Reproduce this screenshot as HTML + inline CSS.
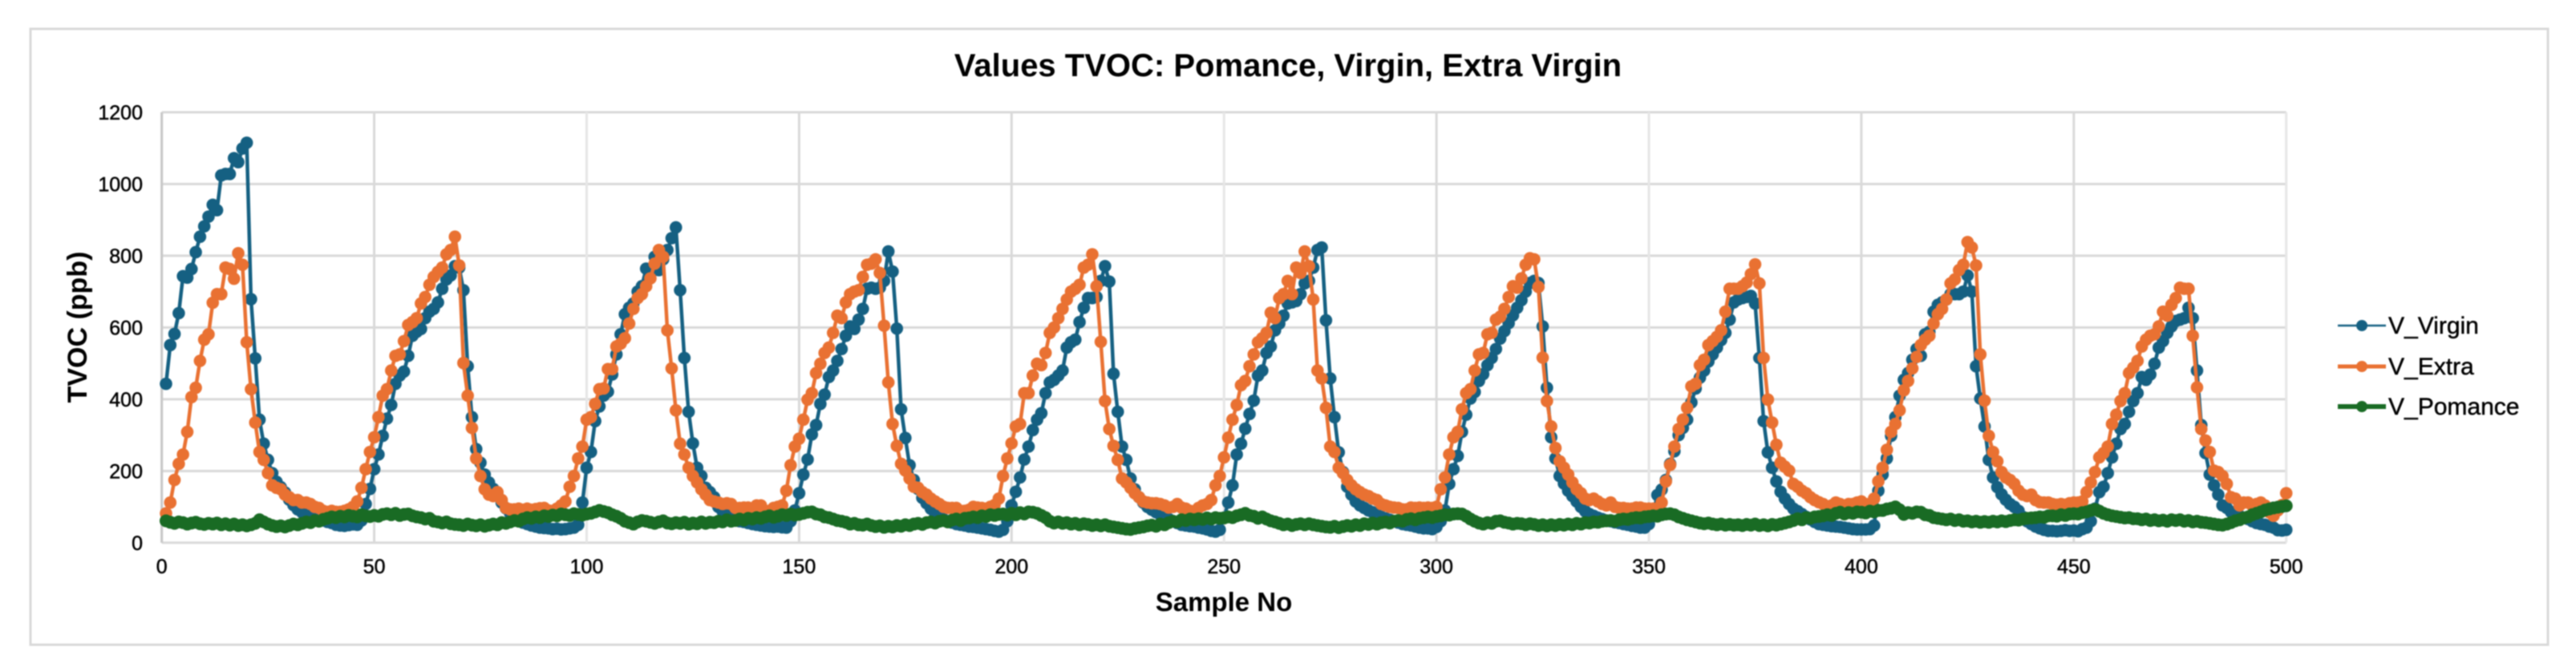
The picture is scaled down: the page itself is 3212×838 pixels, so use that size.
<!DOCTYPE html>
<html lang="en">
<head>
<meta charset="utf-8">
<title>Values TVOC: Pomance, Virgin, Extra Virgin</title>
<style>
html,body{margin:0;padding:0;background:#fff;}
svg{display:block;filter:blur(0.8px);}
text{font-family:"Liberation Sans",sans-serif;fill:#000;}
.tick{font-size:25px;stroke:#000;stroke-width:.5px;}
.legend-label{font-size:30px;stroke:#000;stroke-width:.45px;}
</style>
</head>
<body>
<svg id="chart" xmlns="http://www.w3.org/2000/svg" width="3212" height="838" viewBox="0 0 3212 838">
<rect x="38" y="36" width="3139" height="768" fill="#fff" stroke="#d9d9d9" stroke-width="3"/>
<text x="1606" y="95" text-anchor="middle" font-size="40" font-weight="700">Values TVOC: Pomance, Virgin, Extra Virgin</text>
<text x="1526" y="762" text-anchor="middle" font-size="33" font-weight="700">Sample No</text>
<text transform="translate(108,408) rotate(-90)" text-anchor="middle" font-size="34" font-weight="700">TVOC (ppb)</text>
<g id="grid"></g>
<g id="axes"></g>
<g id="series"></g>
<g id="legend"></g>
</svg>
<script>
const yTicks = [0,200,400,600,800,1000,1200];
const xTicks = [0,50,100,150,200,250,300,350,400,450,500];
const fainterXTicks = [100,250,350,500];
const virgin = [
443,551,582,640,743,739,763,810,853,882,
909,942,927,1024,1028,1028,1072,1061,1099,1115,
679,514,343,276,231,194,170,155,140,120,
105,93,85,80,75,70,66,62,58,55,
50,48,47,49,51,50,62,108,150,205,
246,298,346,384,443,466,477,521,577,588,
596,626,644,652,670,708,734,745,771,767,
704,492,350,261,223,190,168,150,132,112,
96,82,72,62,56,52,48,45,42,41,
40,38,39,37,38,40,42,50,112,209,
253,339,380,410,421,469,525,581,637,655,
667,700,715,764,752,797,760,790,816,849,
879,704,515,365,277,209,186,153,141,127,
100,88,80,72,65,60,58,55,52,50,
48,46,45,44,45,43,42,60,90,138,
190,232,302,328,387,413,462,480,507,540,
577,603,596,622,652,708,711,708,711,730,
812,756,597,372,292,216,175,150,125,110,
95,82,72,65,60,56,52,50,48,45,
44,42,40,38,36,33,31,36,60,104,
142,182,232,268,314,343,361,417,447,454,
466,480,544,559,566,615,655,682,682,685,
730,771,728,471,365,268,231,179,149,127,
112,100,92,85,78,72,66,60,55,50,
48,46,45,42,40,37,33,31,36,70,
112,160,246,276,318,359,396,466,480,529,
547,592,611,633,667,670,674,693,723,730,
767,816,823,620,458,350,252,197,156,134,
115,104,97,90,85,78,72,68,64,60,
56,52,50,48,45,42,40,40,38,44,
60,90,164,205,242,309,357,402,420,451,
470,495,515,540,569,590,612,634,655,676,
700,724,730,724,603,432,294,235,186,165,
145,130,115,100,88,80,75,70,66,62,
60,57,55,52,50,47,45,42,42,52,
80,133,148,175,220,255,300,320,343,391,
430,460,480,505,525,544,565,585,622,670,
678,682,685,688,667,515,339,252,209,171,
142,123,108,95,88,80,72,65,58,52,
50,48,46,45,44,42,40,38,37,37,
37,38,48,145,190,235,298,350,410,454,
473,510,540,521,581,588,644,663,670,678,
693,693,693,700,745,700,492,402,324,231,
182,155,135,120,108,100,89,72,60,52,
45,40,36,33,33,32,33,35,33,34,
32,38,42,60,95,141,156,194,238,276,
317,331,365,395,417,462,454,469,499,544,
562,585,603,618,622,626,655,626,480,328,
250,190,160,134,104,97,86,82,75,70,
66,60,55,52,50,45,42,35,34,36
];
const extra = [
82,112,175,220,246,309,406,432,507,566,
581,669,693,693,767,763,736,807,775,559,
428,335,253,231,194,160,153,149,134,127,
119,119,112,112,108,100,97,89,86,89,
86,86,89,93,100,115,153,205,253,294,
350,410,428,480,521,525,562,607,615,626,
667,685,719,741,755,767,804,816,853,773,
501,410,320,235,186,149,134,130,141,119,
97,93,93,95,92,95,92,94,96,97,
90,89,95,104,115,156,186,235,268,343,
350,387,428,430,484,484,547,555,570,611,
652,682,693,715,737,778,816,797,592,486,
369,276,246,209,186,168,149,134,119,115,
112,108,110,108,97,97,98,98,93,104,
104,89,89,97,100,104,145,216,268,290,
343,399,417,473,499,529,544,585,633,626,
670,693,700,704,741,775,778,790,752,605,
447,331,270,220,201,179,156,153,141,134,
123,115,108,100,97,97,97,89,89,92,
100,98,97,95,100,105,123,186,235,277,
324,331,417,417,466,499,495,529,585,600,
626,652,678,700,708,719,767,775,804,715,
560,395,317,270,231,179,168,153,138,127,
115,112,110,110,108,104,98,100,108,98,
95,89,88,97,104,108,119,160,186,238,
293,343,384,439,451,492,525,559,570,585,
641,626,682,693,730,693,767,752,812,771,
678,480,458,376,268,253,209,194,175,160,
149,141,134,130,123,119,108,104,100,98,
97,93,93,98,97,98,97,98,97,100,
149,182,246,294,309,372,417,428,480,525,
529,581,585,622,630,652,685,715,711,737,
775,793,790,713,516,395,324,264,227,209,
190,168,149,138,123,119,123,115,108,104,
112,100,97,97,95,95,98,98,95,95,
95,95,112,171,217,268,317,343,376,436,
443,495,510,551,562,574,592,644,708,708,
708,715,725,749,776,723,515,399,335,273,
223,212,201,164,156,145,138,127,119,113,
108,100,104,112,108,104,108,108,112,115,
108,108,123,171,209,259,309,331,369,425,
451,486,518,551,566,577,611,637,652,678,
723,734,760,775,838,823,773,525,396,298,
253,227,197,182,175,164,145,134,130,134,
119,113,112,112,108,106,108,106,110,112,
112,115,141,168,197,238,250,268,331,357,
395,417,473,488,507,547,566,577,581,603,
644,633,663,682,711,708,708,577,433,317,
285,253,201,197,186,164,127,123,104,112,
112,104,108,112,104,85,75,90,105,138
];
const pomance = [
61,57,54,58,56,52,55,57,53,51,
54,52,55,50,53,49,52,48,50,47,
50,54,64,58,52,48,45,47,44,48,
52,50,54,58,56,62,60,65,68,72,
70,74,72,76,74,72,78,75,73,76,
74,79,81,78,82,76,79,80,75,72,
70,66,68,60,58,55,58,53,51,50,
48,52,49,47,50,46,49,52,50,56,
54,58,62,60,66,70,68,72,70,75,
73,77,75,80,78,76,81,79,77,80,
82,86,90,87,84,78,74,68,60,56,
52,58,62,60,57,54,58,61,55,53,
56,54,57,52,55,53,58,54,57,56,
60,58,64,60,62,66,63,68,66,70,
68,72,75,71,74,78,76,80,77,79,
82,85,86,80,78,72,70,66,62,60,
57,52,54,50,49,52,48,45,47,43,
46,44,48,46,50,48,52,54,51,56,
58,55,60,62,58,63,66,62,68,69,
72,70,75,73,78,76,79,80,77,82,
78,84,80,86,85,82,76,70,60,55,
58,54,56,52,54,50,53,51,48,50,
47,50,46,44,42,40,38,37,40,42,
44,47,49,46,52,50,56,60,58,64,
62,66,64,67,65,69,66,70,68,69,
72,70,75,78,82,76,74,68,72,66,
61,58,54,50,52,48,51,53,50,53,
50,48,46,44,43,46,42,45,48,46,
50,48,53,51,55,52,56,58,55,60,
62,60,65,67,64,68,70,72,70,73,
75,78,77,80,81,80,74,66,60,55,
52,56,54,60,61,57,55,52,54,53,
50,53,51,48,50,47,50,48,51,49,
52,50,54,52,56,55,58,57,60,61,
62,60,64,66,65,68,70,69,72,73,
75,74,78,80,81,78,72,68,64,61,
58,55,53,55,52,50,52,49,51,49,
50,48,51,49,52,48,50,47,51,49,
52,55,58,62,67,64,70,68,72,73,
75,78,76,82,85,80,84,82,86,85,
83,88,86,90,90,94,96,100,92,79,
84,82,86,85,78,76,70,68,66,64,
66,62,64,60,61,58,60,57,59,57,
60,58,61,59,62,64,63,66,68,69,
70,72,71,75,75,74,78,76,80,81,
80,84,86,90,93,88,82,78,75,73,
71,69,70,67,67,64,66,62,64,61,
63,60,64,62,64,60,62,58,60,57,
56,54,52,50,49,52,56,61,64,69,
72,78,82,86,91,94,97,99,101,103
];
const seriesNames = ["V_Virgin","V_Extra","V_Pomance"];

const SVGNS = "http://www.w3.org/2000/svg";
const PLOT = {left:201.7,right:2850.7,top:140,bottom:676.8};
const X_MAX = 500, Y_MAX = 1200;
function xScale(v){return PLOT.left+(v/X_MAX)*(PLOT.right-PLOT.left);}
function yScale(v){return PLOT.bottom-(v/Y_MAX)*(PLOT.bottom-PLOT.top);}
function mk(tag,attrs,parent){
  const el=document.createElementNS(SVGNS,tag);
  for(const k in attrs){el.setAttribute(k,attrs[k]);}
  parent.appendChild(el);
  return el;
}
const grid=document.getElementById("grid");
const axes=document.getElementById("axes");
const seriesG=document.getElementById("series");
const legendG=document.getElementById("legend");

yTicks.forEach(function(t){
  const line=mk("line",{x1:PLOT.left,x2:PLOT.right,y1:yScale(t),y2:yScale(t),stroke:"#d9d9d9","stroke-width":3},grid);
  
  
  const label=mk("text",{x:178,y:yScale(t)+9,"text-anchor":"end","class":"tick"},axes);
  label.textContent=String(t);
  
  
});
xTicks.forEach(function(t){
  const faint=fainterXTicks.indexOf(t)>=0;
  const line=mk("line",{x1:xScale(t),x2:xScale(t),y1:PLOT.top,y2:PLOT.bottom,stroke:faint?"#e6e6e6":"#d9d9d9","stroke-width":3},grid);
  
  
  const label=mk("text",{x:xScale(t),y:715,"text-anchor":"middle","class":"tick"},axes);
  label.textContent=String(t);
  
  
});
const yAxisLine=mk("line",{x1:PLOT.left,x2:PLOT.left,y1:PLOT.top,y2:PLOT.bottom,stroke:"#c8c8c8","stroke-width":3},grid);



function drawSeries(values,color,width,radius,name){
  const g=mk("g",{},seriesG);
  
  
  const pts=values.map(function(v,i){return xScale(i+1).toFixed(2)+","+yScale(v).toFixed(2);}).join(" ");
  const line=mk("polyline",{points:pts,fill:"none",stroke:color,"stroke-width":width,"stroke-linejoin":"round"},g);
  
  
  values.forEach(function(v,i){
    const dot=mk("circle",{cx:xScale(i+1).toFixed(2),cy:yScale(v).toFixed(2),r:radius,fill:color},g);
    
    
  });
}
drawSeries(virgin,"#156082",4.5,7.8,"series-virgin");
drawSeries(extra,"#E97132",4.5,7.8,"series-extra");
drawSeries(pomance,"#196B24",4.5,8,"series-pomance");

const legendColors=["#156082","#E97132","#196B24"];
const legendWidths=[2.5,5,6];
const legendRows=[406,457,507];
seriesNames.forEach(function(n,i){
  const row=mk("g",{},legendG);
  
  
  const sw=mk("line",{x1:2915,x2:2975,y1:legendRows[i],y2:legendRows[i],stroke:legendColors[i],"stroke-width":legendWidths[i]},row);
  
  
  const dot=mk("circle",{cx:2945,cy:legendRows[i],r:7,fill:legendColors[i]},row);
  
  
  const tx=mk("text",{x:2978,y:legendRows[i]+10,"class":"legend-label"},row);
  tx.textContent=n;
  
  
});
</script>
</body>
</html>
